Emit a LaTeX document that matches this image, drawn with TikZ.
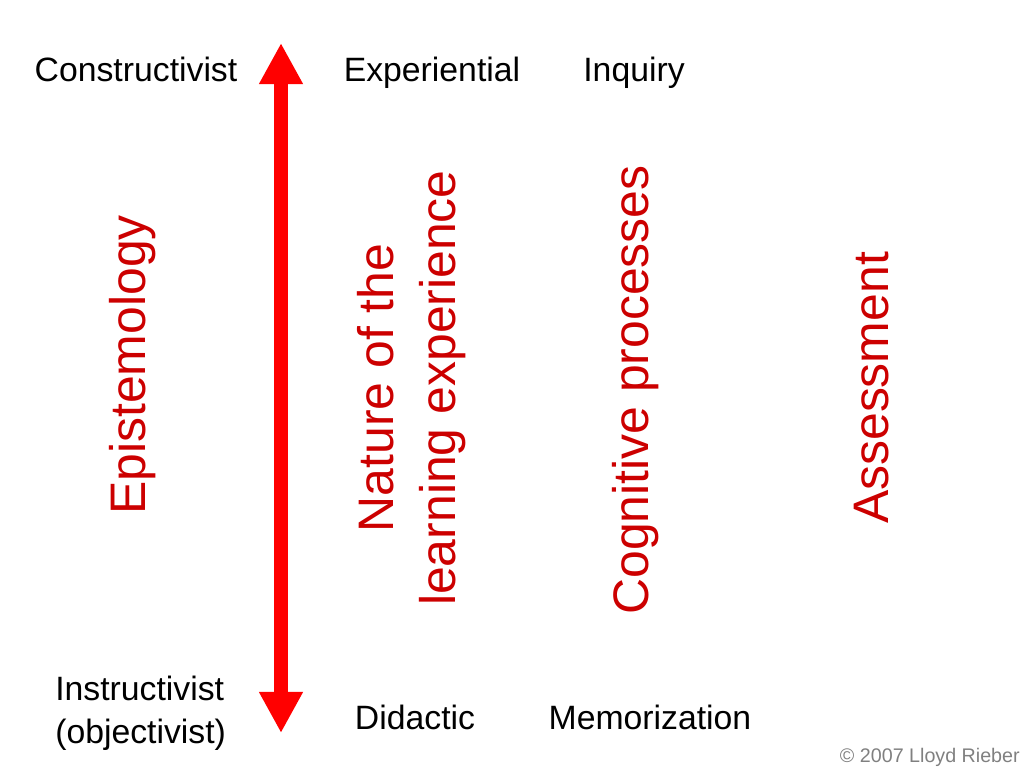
\documentclass[tikz,border=0pt]{standalone}
\usepackage{fontspec}
\setmainfont{Liberation Sans}
\usepackage{xcolor}
\usetikzlibrary{arrows.meta}

\begin{document}
\begin{tikzpicture}[x=0.025cm, y=-0.025cm]
\definecolor{scalered}{RGB}{255, 0, 0}
\definecolor{headred}{RGB}{204, 0, 0}
\definecolor{notegray}{RGB}{128, 128, 128}
\tikzset{
    pole label/.style={inner sep=0pt, anchor=base, font=\fontsize{24}{30.5}\selectfont},
    axis label/.style={inner sep=0pt, rotate=90, headred, align=center, font=\fontsize{35.5}{44}\selectfont},
    scale arrow/.style={{Triangle[length=1.03cm, width=1.03cm]}-{Triangle[length=1.03cm, width=1.03cm]}, scalered, line width=0.35cm}
}
\useasboundingbox (0,0) rectangle (1024,768);
% Continuum arrow
\coordinate (top) at (281,43);
\coordinate (bottom) at (281,733);
\draw[scale arrow] (top) -- (bottom);
% Top poles
\node[pole label] (constr) at (136,82) {Constructivist};
\node[pole label] (exper) at (432,82) {Experiential};
\node[pole label] (inq) at (634,82) {Inquiry};
% Bottom poles
\node[pole label, align=left, anchor=west] (instr) at (55,713) {Instructivist\\(objectivist)};
\node[pole label] (didac) at (415,729) {Didactic};
\node[pole label] (memo) at (650,729) {Memorization};
% Dimensions
\node[axis label] (epist) at (133,365) {Epistemology};
\node[axis label] (nature) at (412,388) {Nature of the\\learning experience};
\node[axis label] (cogn) at (636,390) {Cognitive processes};
\node[axis label] (assess) at (872,388) {Assessment};
\node[inner sep=0pt, notegray, anchor=east, font=\fontsize{14}{16}\selectfont] (copy) at (1020,757) {© 2007 Lloyd Rieber};
\end{tikzpicture}
\end{document}
